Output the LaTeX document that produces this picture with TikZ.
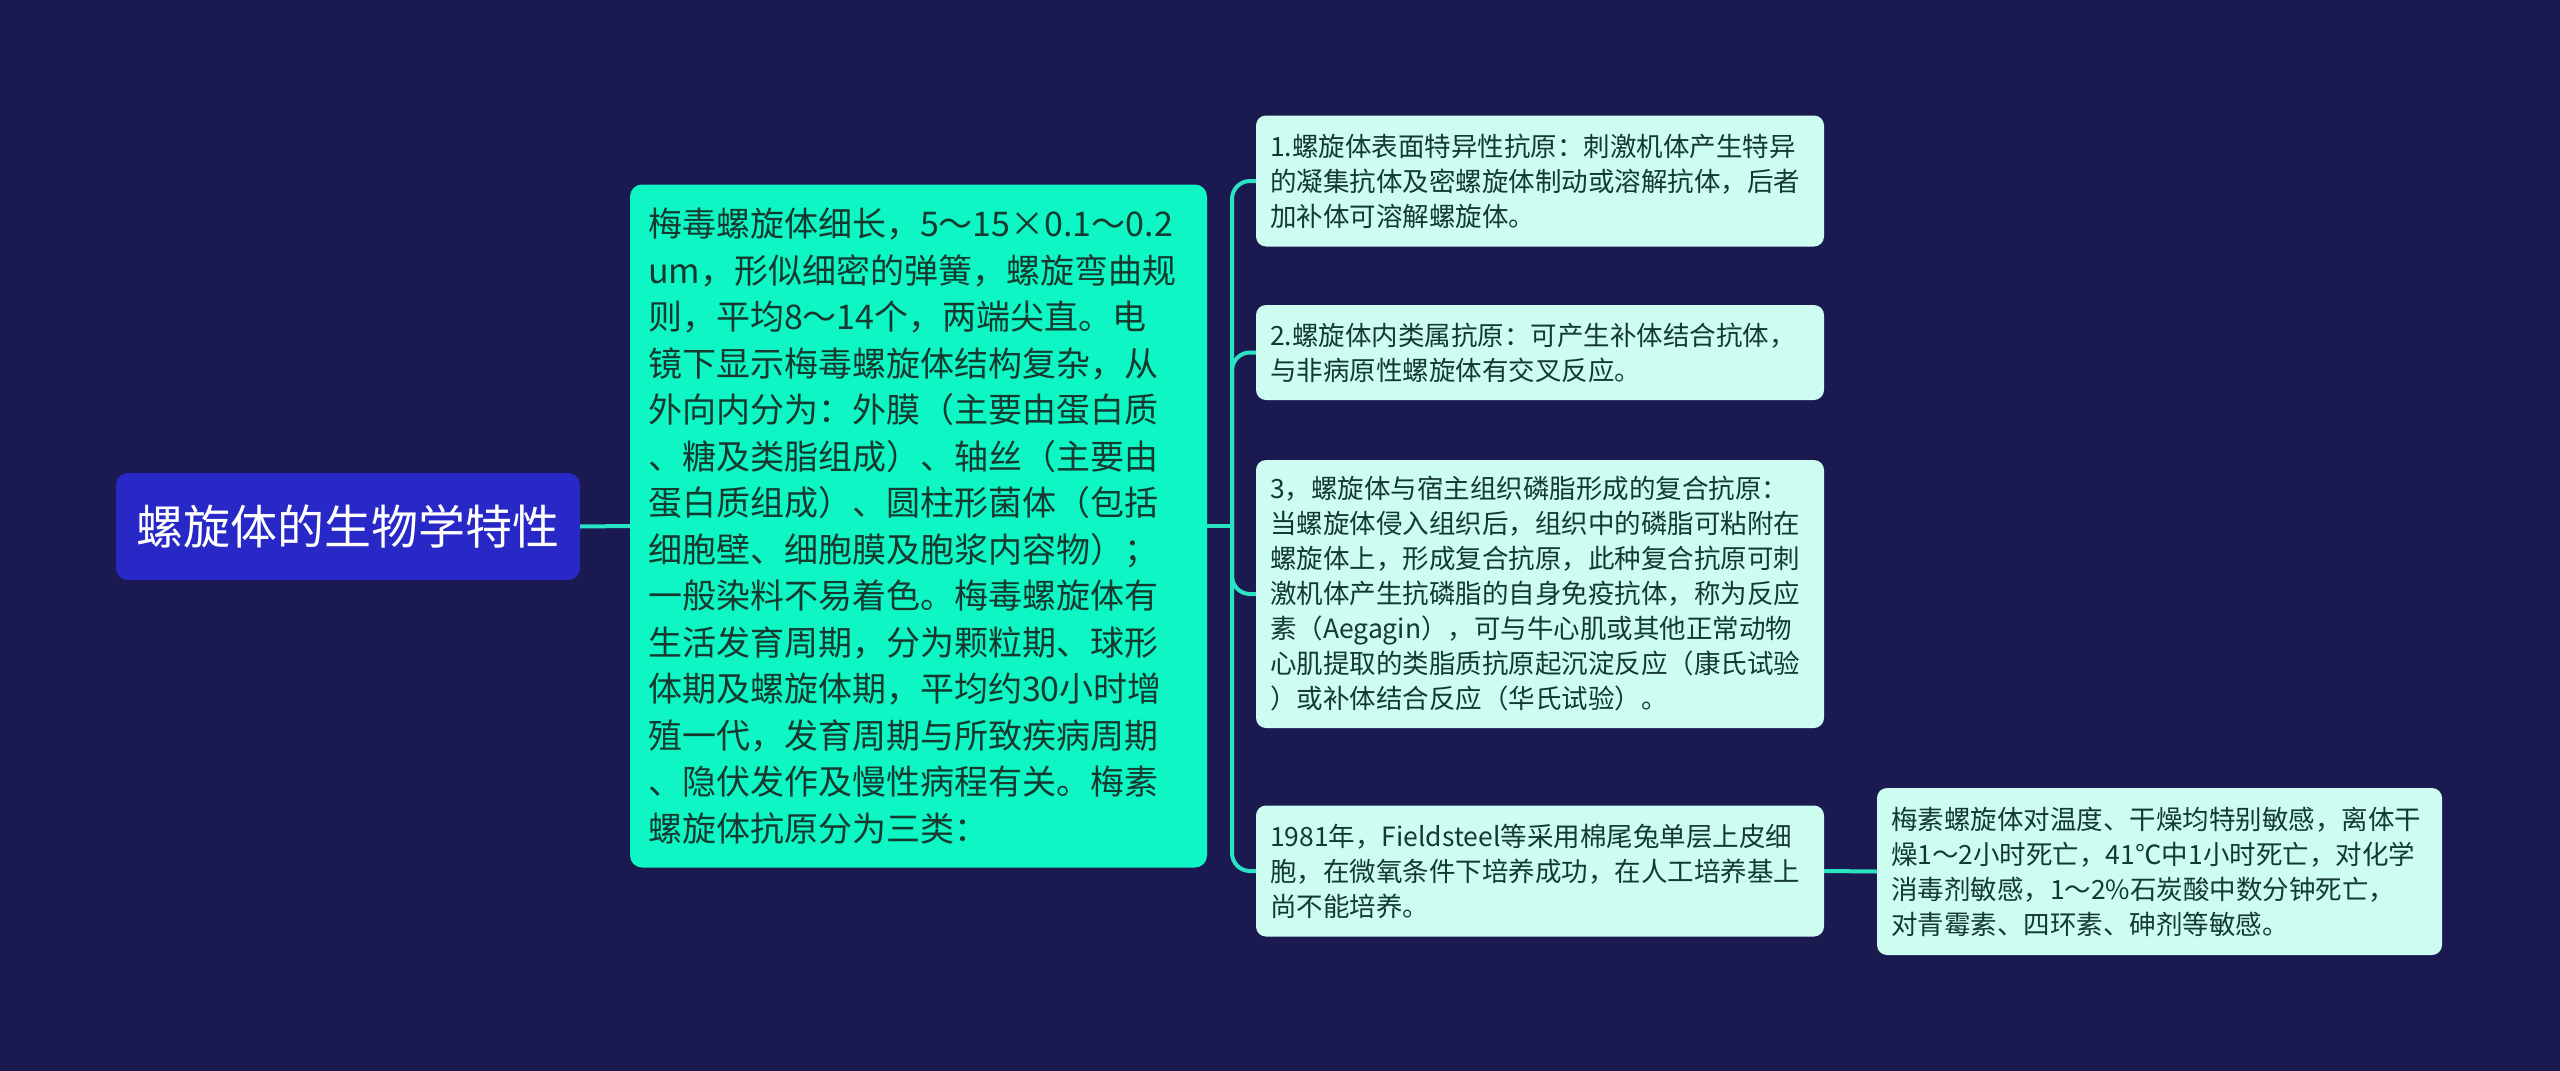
\documentclass[tikz,border=0pt]{standalone}
\usepackage{fontspec}
\setmainfont{Noto Sans CJK SC}
\definecolor{bg}{HTML}{1B1A50}
\definecolor{rootfill}{HTML}{2828C6}
\definecolor{mainfill}{HTML}{0EF6C4}
\definecolor{leaffill}{HTML}{CCFDF0}
\definecolor{linecol}{HTML}{2AE3C4}
\definecolor{darktext}{HTML}{143A30}
\tikzset{
  rootbox/.style={fill=rootfill, rounded corners=12pt, text=white, inner sep=0pt,
    minimum width=464pt, minimum height=107pt, font=\fontsize{47}{56}\selectfont},
  mainbox/.style={fill=mainfill, rounded corners=12pt, text=darktext, inner xsep=18pt, inner ysep=0pt,
    text width=541pt, align=left, minimum height=683pt, font=\fontsize{34}{46.5}\selectfont},
  leafbox/.style={fill=leaffill, rounded corners=10pt, text=darktext, inner xsep=14pt, inner ysep=0pt,
    text width=540pt, align=left, font=\fontsize{26.5}{35}\selectfont},
  conn/.style={draw=linecol, line width=4pt},
}
\begin{document}
\begin{tikzpicture}[x=1pt,y=-1pt]
\fill[bg] (0,0) rectangle (2560,1071);
\useasboundingbox (0,0) rectangle (2560,1071);

\node[rootbox] (root) at (348,526.5) {螺旋体的生物学特性};

\node[mainbox] (main) at (918.5,526) {梅毒螺旋体细长，5～15×0.1～0.2\\um，形似细密的弹簧，螺旋弯曲规\\则，平均8～14个，两端尖直。电\\镜下显示梅毒螺旋体结构复杂，从\\外向内分为：外膜（主要由蛋白质\\、糖及类脂组成）、轴丝（主要由\\蛋白质组成）、圆柱形菌体（包括\\细胞壁、细胞膜及胞浆内容物）；\\一般染料不易着色。梅毒螺旋体有\\生活发育周期，分为颗粒期、球形\\体期及螺旋体期，平均约30小时增\\殖一代，发育周期与所致疾病周期\\、隐伏发作及慢性病程有关。梅素\\螺旋体抗原分为三类：};

\node[leafbox, minimum height=131pt] (b1) at (1540,181) {1.螺旋体表面特异性抗原：刺激机体产生特异\\的凝集抗体及密螺旋体制动或溶解抗体，后者\\加补体可溶解螺旋体。};

\node[leafbox, minimum height=95pt] (b2) at (1540,352.5) {2.螺旋体内类属抗原：可产生补体结合抗体，\\与非病原性螺旋体有交叉反应。};

\node[leafbox, minimum height=268pt] (b3) at (1540,594) {3，螺旋体与宿主组织磷脂形成的复合抗原：\\当螺旋体侵入组织后，组织中的磷脂可粘附在\\螺旋体上，形成复合抗原，此种复合抗原可刺\\激机体产生抗磷脂的自身免疫抗体，称为反应\\素（Aegagin），可与牛心肌或其他正常动物\\心肌提取的类脂质抗原起沉淀反应（康氏试验\\）或补体结合反应（华氏试验）。};

\node[leafbox, minimum height=131pt] (b4) at (1540,871) {1981年，Fieldsteel等采用棉尾兔单层上皮细\\胞，在微氧条件下培养成功，在人工培养基上\\尚不能培养。};

\node[leafbox, minimum height=167pt, text width=537pt] (b5) at (2159.5,871.5) {梅素螺旋体对温度、干燥均特别敏感，离体干\\燥1～2小时死亡，41℃中1小时死亡，对化学\\消毒剂敏感，1～2\%石炭酸中数分钟死亡，\\对青霉素、四环素、砷剂等敏感。};

\coordinate (j) at (1232,526);

\draw[conn] (root.east) -- (main.west);
\draw[conn] (main.east) -- (j);
\draw[conn, rounded corners=18pt] (j) |- (b1.west);
\draw[conn, rounded corners=18pt] (j) |- (b2.west);
\draw[conn, rounded corners=18pt] (j) |- (b3.west);
\draw[conn, rounded corners=18pt] (j) |- (b4.west);
\draw[conn] (b4.east) -- (b5.west);
\end{tikzpicture}
\end{document}
